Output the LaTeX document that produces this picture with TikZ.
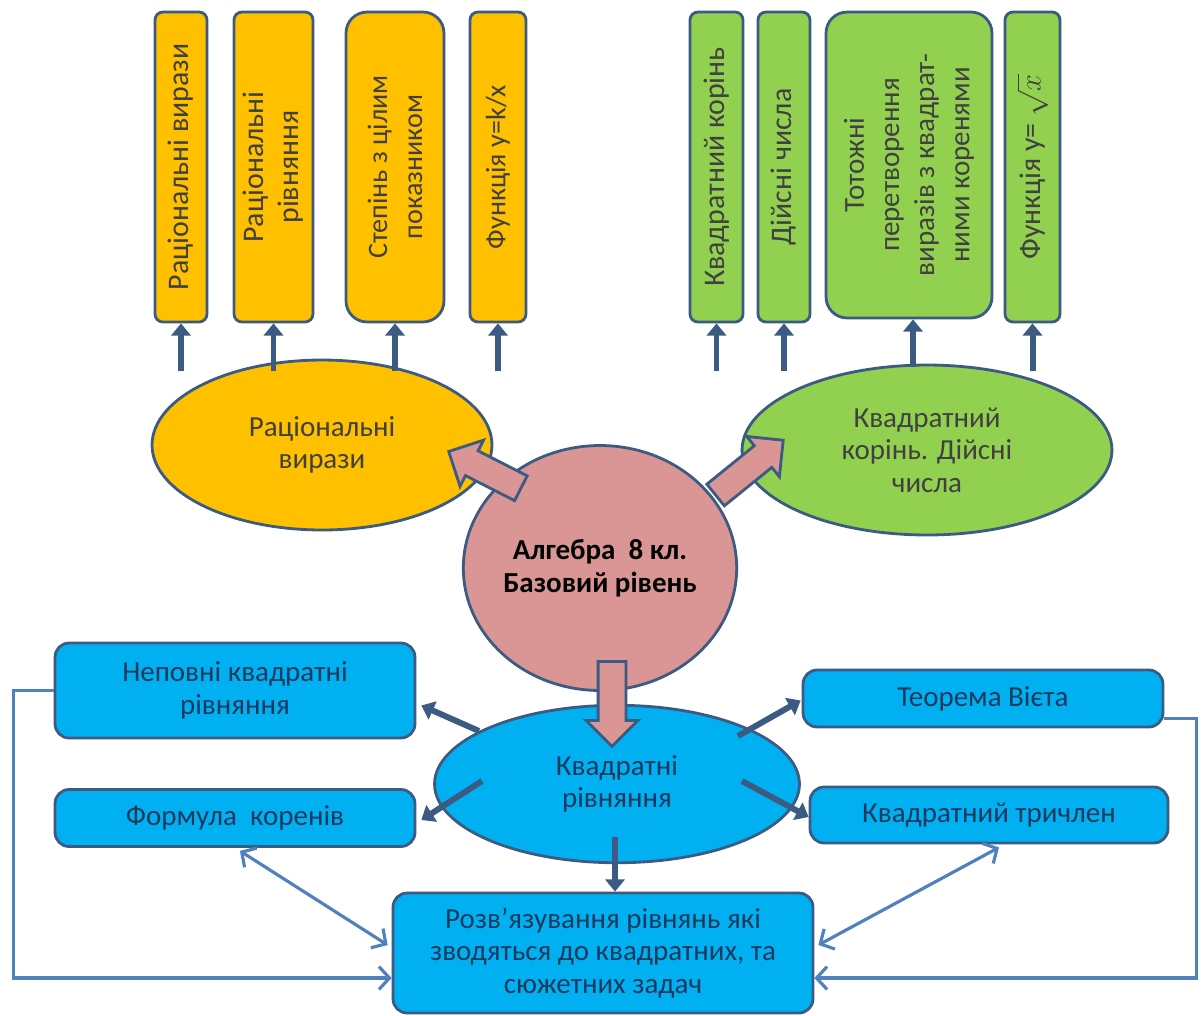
\documentclass[tikz,border=0pt]{standalone}
\usepackage{fontspec}
\setmainfont{Carlito}
\usetikzlibrary{shapes.geometric,shapes.arrows,arrows.meta}
\definecolor{ylw}{HTML}{FFC000}
\definecolor{grn}{HTML}{92D050}
\definecolor{pnk}{HTML}{D99694}
\definecolor{blu}{HTML}{00B0F0}
\definecolor{edge}{HTML}{3B5B82}
\definecolor{lnk}{HTML}{4F81BD}
\definecolor{navy}{HTML}{1B3A5E}

\begin{document}
\begin{tikzpicture}[x=0.02cm, y=-0.02cm,
    every node/.style={font=\fontsize{16.5}{18.5}\selectfont, align=center},
    vbox/.style={draw=edge, line width=1.6pt, rounded corners=4.5pt, rotate=90,
        minimum width=6.2cm, inner sep=2pt, text=black!75, font=\fontsize{17}{20}\selectfont},
    hbox/.style={draw=edge, line width=1.6pt, rounded corners=8pt, fill=blu, text=navy},
    oval/.style={ellipse, draw=edge, line width=1.6pt, inner sep=0pt},
    bigarrow/.style={single arrow, draw=edge, line width=1.6pt, fill=pnk,
        inner sep=0.25cm, single arrow head extend=0.24cm},
    uparr/.style={draw=edge, line width=3.4pt, -{Triangle[length=7pt,width=11pt]}},
    link/.style={draw=lnk, line width=1.8pt, -{Straight Barb[length=6pt,width=13pt]}},
    both/.style={link, {Straight Barb[length=6pt,width=13pt]}-{Straight Barb[length=6pt,width=13pt]}}]
    \useasboundingbox (0,0) rectangle (1203,1015);

    % rational part
    \node[vbox, fill=ylw, minimum height=1.04cm] (r1) at (181,167) {Раціональні вирази};
    \node[vbox, fill=ylw, minimum height=1.58cm] (r2) at (273.5,167) {Раціональні\\рівняння};
    \node[vbox, fill=ylw, minimum height=1.96cm, rounded corners=12pt, font=\fontsize{16}{20}\selectfont] (r3) at (395,167)
        {Степінь з цілим\\показником};
    \node[vbox, fill=ylw, minimum height=1.12cm, font=\fontsize{16}{20}\selectfont] (r4) at (498,167) {Функція y=k/x};

    % roots part
    \node[vbox, fill=grn, minimum height=1.06cm] (g1) at (716.5,167) {Квадратний корінь};
    \node[vbox, fill=grn, minimum height=1.04cm] (g2) at (784,167) {Дійсні числа};
    \node[vbox, fill=grn, minimum height=3.32cm, minimum width=6.12cm, rounded corners=12pt,
        font=\fontsize{16.5}{20}\selectfont] (g3) at (909,165)
        {Тотожні\\перетворення\\виразів з квадрат-\\ними коренями};
    \node[vbox, fill=grn, minimum height=1.1cm] (g4) at (1032.5,167) {Функція y= $\sqrt{x}$};

    \node[oval, fill=ylw, minimum width=6.8cm, minimum height=3.4cm, text=black!75] (re) at (322,445) {Раціональні\\вирази};
    \node[oval, fill=grn, minimum width=7.4cm, minimum height=3.4cm, text=black!75] (ke) at (927,450) {Квадратний\\корінь. Дійсні\\числа};

    \foreach \b in {r1,r2,r3,r4,g1,g2,g4}
        \draw[uparr] ([shift={(0,48)}]\b.west) -- (\b.west);
    \draw[uparr] ([shift={(4,48)}]g3.west) -- ([shift={(4,0)}]g3.west);

    % quadratic part
    \node[hbox, minimum width=7.2cm, minimum height=1.9cm] (np) at (235,690.5) {Неповні квадратні\\рівняння};
    \node[hbox, minimum width=7.2cm, minimum height=1.14cm] (fk) at (235,818) {Формула\ \ коренів};
    \node[hbox, minimum width=7.2cm, minimum height=1.14cm] (tv) at (983,698.5) {Теорема Вієта};
    \node[hbox, minimum width=7.16cm, minimum height=1.12cm] (kt) at (989,815) {Квадратний тричлен};
    \node[hbox, minimum width=8.4cm, minimum height=2.4cm] (rz) at (603,953)
        {Розв’язування рівнянь які\\зводяться до квадратних, та\\сюжетних задач};

    \node[oval, fill=blu, minimum width=7.3cm, minimum height=3.15cm, text=navy] (kv) at (617,784) {Квадратні\\рівняння};
    \node[oval, fill=pnk, minimum width=4.72cm, minimum height=4.9cm, font=\fontsize{16.5}{19}\selectfont\bfseries] (alg) at (600,568)
        {Алгебра\ \ 8 кл.\\Базовий рівень};

    \node[bigarrow, minimum height=1.62cm, rotate=153] (a1) at (491,473) {};
    \node[bigarrow, minimum height=1.74cm, rotate=39] (a2) at (744,472) {};
    \node[bigarrow, minimum height=1.7cm, rotate=-90] (a3) at (612,697) {};

    \draw[uparr] (kv.159) -- ([shift={(5,15)}]np.east);
    \draw[uparr] ([shift={(-135,-3)}]kv.center) -- ([shift={(5,2)}]fk.east);
    \draw[uparr] ([shift={(121,-48)}]kv.center) -- ([shift={(-1,2)}]tv.west);
    \draw[uparr] ([shift={(125,-3)}]kv.center) -- ([shift={(0,2)}]kt.west);
    \draw[uparr] ([shift={(-2,53)}]kv.center) -- ([shift={(12,0)}]rz.north);

    \draw[both] ([shift={(5,3)}]fk.south) -- ([shift={(-4,-8)}]rz.west);
    \draw[both] ([shift={(10,3)}]kt.south) -- ([shift={(4,-8)}]rz.east);
    \draw[link] (np.west) -- ++(-40,0) |- ([shift={(0,25)}]rz.west);
    \draw[link] ([shift={(0,20)}]tv.east) -- ++(32,0) |- ([shift={(0,25)}]rz.east);
\end{tikzpicture}
\end{document}
